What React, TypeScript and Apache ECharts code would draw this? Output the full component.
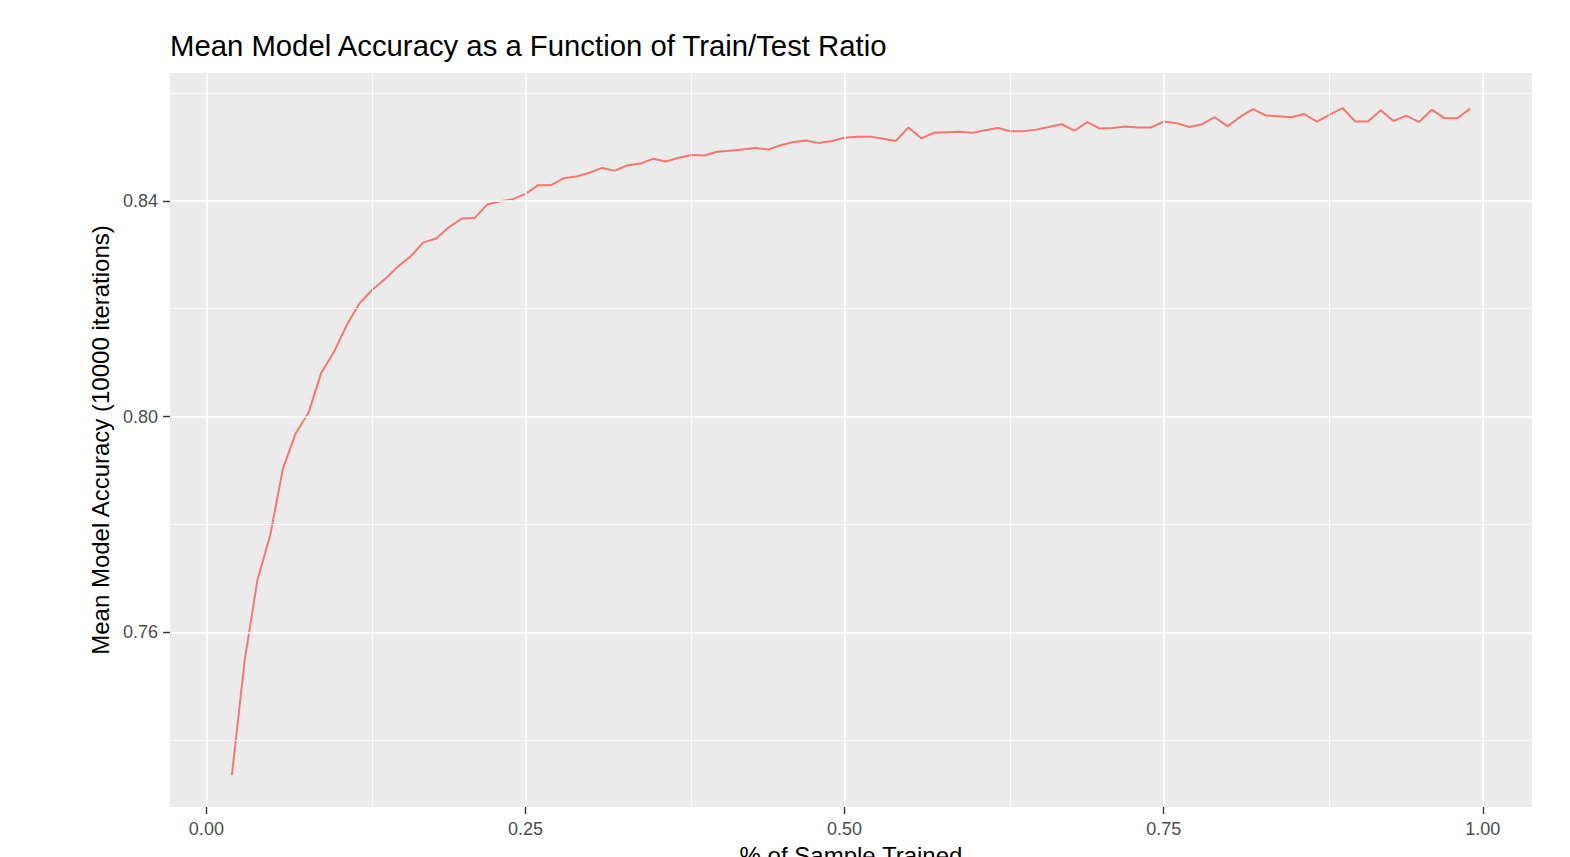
import React, { useEffect, useRef } from "react";
import * as echarts from "echarts";

const sampleTrained: number[] = [
  0.02, 0.03, 0.04, 0.05, 0.06, 0.07, 0.08, 0.09, 0.1, 0.11, 0.12, 0.13, 0.14, 0.15, 0.16, 0.17, 0.18, 0.19, 0.2, 0.21,
  0.22, 0.23, 0.24, 0.25, 0.26, 0.27, 0.28, 0.29, 0.3, 0.31, 0.32, 0.33, 0.34, 0.35, 0.36, 0.37, 0.38, 0.39, 0.4, 0.41,
  0.42, 0.43, 0.44, 0.45, 0.46, 0.47, 0.48, 0.49, 0.5, 0.51, 0.52, 0.53, 0.54, 0.55, 0.56, 0.57, 0.58, 0.59, 0.6, 0.61,
  0.62, 0.63, 0.64, 0.65, 0.66, 0.67, 0.68, 0.69, 0.7, 0.71, 0.72, 0.73, 0.74, 0.75, 0.76, 0.77, 0.78, 0.79, 0.8, 0.81,
  0.82, 0.83, 0.84, 0.85, 0.86, 0.87, 0.88, 0.89, 0.9, 0.91, 0.92, 0.93, 0.94, 0.95, 0.96, 0.97, 0.98, 0.99,
];

const meanAccuracy: number[] = [
  0.7335, 0.7548, 0.7697, 0.778, 0.7904, 0.7969, 0.8007, 0.8081, 0.812, 0.817, 0.821, 0.8235, 0.8255, 0.8278, 0.8297,
  0.8323, 0.833, 0.8351, 0.8367, 0.8368, 0.8393, 0.8399, 0.8403, 0.8413, 0.8429, 0.8429, 0.8442, 0.8445, 0.8452, 0.8461,
  0.8456, 0.8466, 0.8469, 0.8478, 0.8473, 0.848, 0.8485, 0.8484, 0.8491, 0.8493, 0.8495, 0.8498, 0.8495, 0.8503, 0.8509,
  0.8512, 0.8507, 0.8511, 0.8517, 0.8519, 0.8519, 0.8515, 0.8511, 0.8536, 0.8516, 0.8526, 0.8527, 0.8528, 0.8526, 0.8531,
  0.8535, 0.8529, 0.8529, 0.8532, 0.8537, 0.8542, 0.853, 0.8546, 0.8534, 0.8535, 0.8538, 0.8536, 0.8536, 0.8547, 0.8544,
  0.8537, 0.8542, 0.8555, 0.8538, 0.8556, 0.857, 0.8558, 0.8557, 0.8555, 0.8561, 0.8547, 0.856, 0.8572, 0.8547, 0.8547,
  0.8568, 0.8548, 0.8558, 0.8546, 0.8569, 0.8553, 0.8553, 0.8571,
];

const xMajorTicks: number[] = [0, 0.25, 0.5, 0.75, 1];
const xMinorTicks: number[] = [0.125, 0.375, 0.625, 0.875];
const yMajorTicks: number[] = [0.76, 0.8, 0.84];
const yMinorTicks: number[] = [0.74, 0.78, 0.82, 0.86];

const FONT = "'Liberation Sans', Arial, sans-serif";

export default function App() {
  const ref = useRef<HTMLDivElement>(null);

  useEffect(() => {
    if (!ref.current) return;
    const chart = echarts.init(ref.current, undefined, { renderer: "svg" });

    const gridLines: any[] = [
      ...xMinorTicks.map((v) => ({ xAxis: v, lineStyle: { width: 0.8 } })),
      ...yMinorTicks.map((v) => ({ yAxis: v, lineStyle: { width: 0.8 } })),
      ...xMajorTicks.map((v) => ({ xAxis: v, lineStyle: { width: 1.6 } })),
      ...yMajorTicks.map((v) => ({ yAxis: v, lineStyle: { width: 1.6 } })),
    ];

    chart.setOption({
      animation: false,
      backgroundColor: "#ffffff",
      title: {
        text: "Mean Model Accuracy as a Function of Train/Test Ratio",
        left: 170,
        top: 31,
        padding: 0,
        textStyle: { fontFamily: FONT, fontSize: 29.3, fontWeight: "normal", color: "#000000" },
      },
      grid: {
        left: 170,
        right: 38,
        top: 73,
        bottom: 50,
        show: true,
        containLabel: false,
        outerBoundsMode: "none",
        backgroundColor: "#EBEBEB",
        borderWidth: 0,
      },
      xAxis: {
        type: "value",
        min: -0.0285,
        max: 1.0385,
        name: "% of Sample Trained",
        nameLocation: "middle",
        nameGap: 36,
        nameTextStyle: { fontFamily: FONT, fontSize: 24, color: "#000000" },
        axisLine: { show: false, onZero: false },
        axisTick: {
          show: true,
          length: 7,
          customValues: xMajorTicks,
          lineStyle: { color: "#333333", width: 1.4 },
        },
        axisLabel: {
          customValues: xMajorTicks,
          margin: 13,
          fontFamily: FONT,
          fontSize: 18,
          color: "#4D4D4D",
          formatter: (v: number) => v.toFixed(2),
        },
        splitLine: { show: false },
      },
      yAxis: {
        type: "value",
        min: 0.7276,
        max: 0.8637,
        name: "Mean Model Accuracy (10000 iterations)",
        nameLocation: "middle",
        nameRotate: 90,
        nameGap: 48,
        nameTextStyle: { fontFamily: FONT, fontSize: 24, color: "#000000" },
        axisLine: { show: false, onZero: false },
        axisTick: {
          show: true,
          length: 7,
          customValues: yMajorTicks,
          lineStyle: { color: "#333333", width: 1.4 },
        },
        axisLabel: {
          customValues: yMajorTicks,
          margin: 12,
          fontFamily: FONT,
          fontSize: 18,
          color: "#4D4D4D",
          formatter: (v: number) => v.toFixed(2),
        },
        splitLine: { show: false },
      },
      series: [
        {
          type: "line",
          data: [],
          z: 1,
          silent: true,
          markLine: {
            silent: true,
            symbol: ["none", "none"],
            label: { show: false },
            lineStyle: { color: "#FFFFFF", type: "solid" },
            emphasis: { disabled: true },
            data: gridLines,
          },
        },
        {
          type: "line",
          z: 3,
          data: sampleTrained.map((x, i) => [x, meanAccuracy[i]]),
          showSymbol: false,
          symbol: "none",
          lineStyle: { color: "#F8766D", width: 2 },
          itemStyle: { color: "#F8766D" },
        },
      ],
    });

    return () => chart.dispose();
  }, []);

  return (
    <div
      ref={ref}
      style={{ position: "fixed", left: 0, top: 0, width: 1570, height: 857, background: "#fff" }}
    />
  );
}
